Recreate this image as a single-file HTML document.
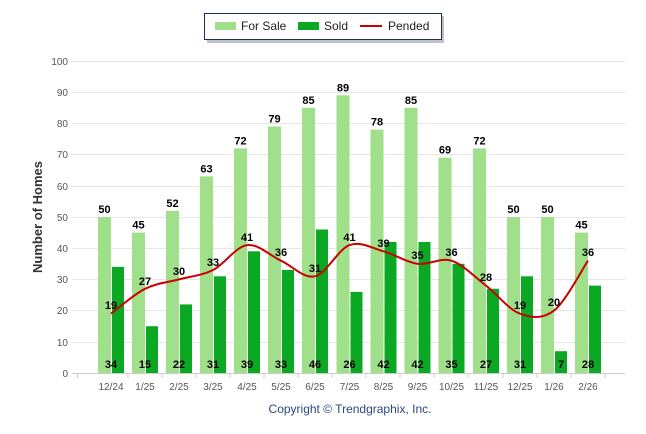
<!DOCTYPE html>
<html><head><style>body{margin:0;background:#fff}svg{display:block}text{font-family:"Liberation Sans",Arial,sans-serif}</style></head><body>
<svg width="646" height="434" viewBox="0 0 646 434" xmlns="http://www.w3.org/2000/svg">
<g stroke="#e6e6e6" stroke-width="1">
<line x1="72" x2="625" y1="61.5" y2="61.5"/><line x1="72" x2="625" y1="92.5" y2="92.5"/><line x1="72" x2="625" y1="123.5" y2="123.5"/><line x1="72" x2="625" y1="154.5" y2="154.5"/><line x1="72" x2="625" y1="186.5" y2="186.5"/><line x1="72" x2="625" y1="217.5" y2="217.5"/><line x1="72" x2="625" y1="248.5" y2="248.5"/><line x1="72" x2="625" y1="279.5" y2="279.5"/><line x1="72" x2="625" y1="310.5" y2="310.5"/><line x1="72" x2="625" y1="342.5" y2="342.5"/>
</g>
<g font-size="10" fill="#555" text-anchor="end">
<text x="68" y="65">100</text><text x="68" y="96">90</text><text x="68" y="127">80</text><text x="68" y="158">70</text><text x="68" y="190">60</text><text x="68" y="221">50</text><text x="68" y="252">40</text><text x="68" y="283">30</text><text x="68" y="314">20</text><text x="68" y="346">10</text><text x="68" y="377">0</text>
</g>
<line x1="72" x2="625" y1="373.5" y2="373.5" stroke="#ccc"/>
<g stroke="#ccc"><line x1="77.5" x2="77.5" y1="373" y2="378"/><line x1="128" x2="128" y1="373" y2="378"/><line x1="162" x2="162" y1="373" y2="378"/><line x1="196" x2="196" y1="373" y2="378"/><line x1="230" x2="230" y1="373" y2="378"/><line x1="264" x2="264" y1="373" y2="378"/><line x1="298" x2="298" y1="373" y2="378"/><line x1="332" x2="332" y1="373" y2="378"/><line x1="366" x2="366" y1="373" y2="378"/><line x1="400" x2="400" y1="373" y2="378"/><line x1="434" x2="434" y1="373" y2="378"/><line x1="468" x2="468" y1="373" y2="378"/><line x1="503" x2="503" y1="373" y2="378"/><line x1="537" x2="537" y1="373" y2="378"/><line x1="571" x2="571" y1="373" y2="378"/><line x1="605" x2="605" y1="373" y2="378"/></g>
<g fill="#a0e08a">
<rect x="98" y="217" width="13" height="156"/><rect x="132" y="232.6" width="13" height="140.4"/><rect x="166" y="210.8" width="13" height="162.2"/><rect x="200" y="176.4" width="13" height="196.6"/><rect x="234" y="148.4" width="13" height="224.6"/><rect x="268" y="126.5" width="13" height="246.5"/><rect x="302" y="107.8" width="13" height="265.2"/><rect x="336.5" y="95.3" width="13" height="277.7"/><rect x="370.5" y="129.6" width="13" height="243.4"/><rect x="404.5" y="107.8" width="13" height="265.2"/><rect x="438.5" y="157.7" width="13" height="215.3"/><rect x="473" y="148.4" width="13" height="224.6"/><rect x="507" y="217" width="13" height="156"/><rect x="541" y="217" width="13" height="156"/><rect x="575" y="232.6" width="13" height="140.4"/>
</g>
<g fill="#0aa823">
<rect x="112" y="266.9" width="12" height="106.1"/><rect x="146" y="326.2" width="12" height="46.8"/><rect x="180" y="304.4" width="12" height="68.6"/><rect x="214" y="276.3" width="12" height="96.7"/><rect x="248" y="251.3" width="12" height="121.7"/><rect x="282" y="270" width="12" height="103"/><rect x="316" y="229.5" width="12" height="143.5"/><rect x="350.5" y="291.9" width="12" height="81.1"/><rect x="384.5" y="242" width="12" height="131"/><rect x="418.5" y="242" width="12" height="131"/><rect x="452.5" y="263.8" width="12" height="109.2"/><rect x="487" y="288.8" width="12" height="84.2"/><rect x="521" y="276.3" width="12" height="96.7"/><rect x="555" y="351.2" width="12" height="21.8"/><rect x="589" y="285.6" width="12" height="87.4"/>
</g>
<path d="M111,313.7 C116.7,309.6 133.6,294.5 145,288.8 C156.4,283.1 167.6,282.5 179,279.4 C190.4,276.3 201.6,275.7 213,270 C224.4,264.3 235.6,246.7 247,245.1 C258.4,243.6 269.6,255.5 281,260.7 C292.4,265.9 303.6,278.9 315,276.3 C326.4,273.7 338.1,249.3 349.5,245.1 C360.9,240.9 372.1,248.2 383.5,251.3 C394.9,254.4 406.1,262.2 417.5,263.8 C428.9,265.4 440.1,257.1 451.5,260.7 C462.9,264.3 474.6,276.8 486,285.6 C497.4,294.4 508.6,309.5 520,313.7 C531.4,317.9 542.6,319.4 554,310.6 C565.4,301.8 582.3,269 588,260.7" fill="none" stroke="#cc0000" stroke-width="2"/>
<g font-size="11" font-weight="bold" fill="#000" text-anchor="middle">
<text x="104.5" y="213">50</text><text x="138.5" y="228.6">45</text><text x="172.5" y="206.8">52</text><text x="206.5" y="172.4">63</text><text x="240.5" y="144.4">72</text><text x="274.5" y="122.5">79</text><text x="308.5" y="103.8">85</text><text x="343" y="91.3">89</text><text x="377" y="125.6">78</text><text x="411" y="103.8">85</text><text x="445" y="153.7">69</text><text x="479.5" y="144.4">72</text><text x="513.5" y="213">50</text><text x="547.5" y="213">50</text><text x="581.5" y="228.6">45</text>
<text x="111" y="368">34</text><text x="145" y="368">15</text><text x="179" y="368">22</text><text x="213" y="368">31</text><text x="247" y="368">39</text><text x="281" y="368">33</text><text x="315" y="368">46</text><text x="349.5" y="368">26</text><text x="383.5" y="368">42</text><text x="417.5" y="368">42</text><text x="451.5" y="368">35</text><text x="486" y="368">27</text><text x="520" y="368">31</text><text x="561" y="368">7</text><text x="588" y="368">28</text>
<text x="111" y="309">19</text><text x="145" y="285">27</text><text x="179" y="275">30</text><text x="213" y="266">33</text><text x="247" y="241">41</text><text x="281" y="256">36</text><text x="315" y="272">31</text><text x="349.5" y="241">41</text><text x="383.5" y="247">39</text><text x="417.5" y="259">35</text><text x="451.5" y="256">36</text><text x="486" y="281">28</text><text x="520" y="309">19</text><text x="554" y="306">20</text><text x="588" y="256">36</text>
</g>
<g font-size="10" fill="#555" text-anchor="middle">
<text x="111" y="390">12/24</text><text x="145" y="390">1/25</text><text x="179" y="390">2/25</text><text x="213" y="390">3/25</text><text x="247" y="390">4/25</text><text x="281" y="390">5/25</text><text x="315" y="390">6/25</text><text x="349.5" y="390">7/25</text><text x="383.5" y="390">8/25</text><text x="417.5" y="390">9/25</text><text x="451.5" y="390">10/25</text><text x="486" y="390">11/25</text><text x="520" y="390">12/25</text><text x="554" y="390">1/26</text><text x="588" y="390">2/26</text>
</g>
<text transform="translate(42,217) rotate(-90)" font-size="13" font-weight="bold" fill="#333" text-anchor="middle">Number of Homes</text>
<text x="350" y="413" font-size="12" fill="#2a4a80" text-anchor="middle">Copyright © Trendgraphix, Inc.</text>
<rect x="207" y="16" width="237" height="27" fill="#999" opacity="0.6"/>
<rect x="204.5" y="13.5" width="237" height="26" fill="#fff" stroke="#1f2f5a" stroke-width="1"/>
<rect x="215" y="22" width="21" height="8" fill="#a0e08a"/><text x="241" y="30" font-size="12" fill="#222">For Sale</text>
<rect x="298" y="22" width="21" height="8" fill="#0aa823"/><text x="324" y="30" font-size="12" fill="#222">Sold</text>
<line x1="360" x2="382" y1="26" y2="26" stroke="#cc0000" stroke-width="2"/><text x="388" y="30" font-size="12" fill="#222">Pended</text>
</svg>
</body></html>
